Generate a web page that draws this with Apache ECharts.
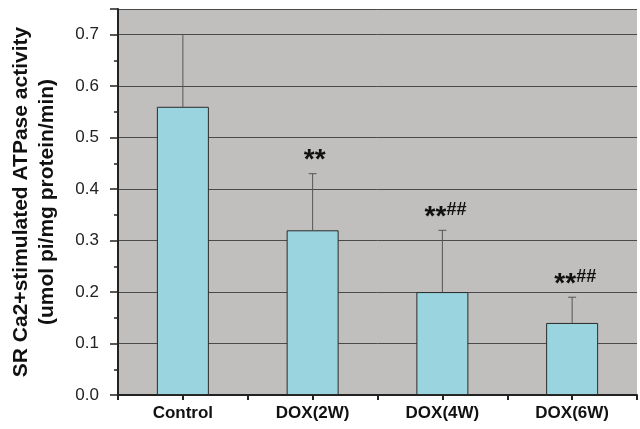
<!DOCTYPE html>
<html>
<head>
<meta charset="utf-8">
<script src="https://cdn.jsdelivr.net/npm/echarts@6/dist/echarts.min.js"></script>
<style>
  html, body { margin: 0; padding: 0; background: #fff; }
  #chart { width: 640px; height: 429px; }
</style>
</head>
<body>
<div id="chart"></div>
<script>
// data
var groups = ['Control', 'DOX(2W)', 'DOX(4W)', 'DOX(6W)']
var activity = [0.56, 0.32, 0.20, 0.14]
var errTop = [0.70, 0.43, 0.32, 0.19]
var signif = ['', '**', '**##', '**##']

var myChart = echarts.init(document.getElementById('chart'))

function errorItem(params, api) {
  var i = params.dataIndex
  var base = api.coord([i, api.value(1)])
  var top = api.coord([i, api.value(2)])
  var kids = [{
    type: 'line',
    shape: { x1: base[0], y1: base[1], x2: top[0], y2: top[1] },
    style: { stroke: '#555', lineWidth: 1 }
  }]
  if (i > 0) {
    kids.push({
      type: 'line',
      shape: { x1: top[0] - 4, y1: top[1], x2: top[0] + 4, y2: top[1] },
      style: { stroke: '#555', lineWidth: 1 }
    })
  }
  var s = signif[i]
  if (s) {
    var stars = s.replace(/#/g, '')
    var hashes = s.replace(/\*/g, '')
    // the asterisks
    kids.push({
      type: 'text',
      x: hashes ? top[0] + 4 : top[0] + 2,
      y: top[1],
      style: {
        text: stars,
        align: hashes ? 'right' : 'center',
        verticalAlign: 'bottom',
        fontFamily: 'Liberation Sans', fontWeight: 'bold', fontSize: 28,
        lineHeight: 26, fill: '#111'
      }
    })
    // the hashes, set a bit higher
    if (hashes) {
      kids.push({
        type: 'text',
        x: top[0] + 4,
        y: top[1] - 20,
        style: {
          text: hashes,
          align: 'left',
          verticalAlign: 'middle',
          fontFamily: 'Liberation Sans', fontWeight: 'bold', fontSize: 18,
          fill: '#111'
        }
      })
    }
  }
  return { type: 'group', children: kids }
}

var option = {
  animation: false,
  grid: {
    left: 118, top: 9, right: 3, bottom: 34,
    show: true, backgroundColor: '#c1bfbe', borderWidth: 0
  },
  xAxis: [{
    type: 'category',
    data: groups,
    axisLine: { lineStyle: { color: '#222', width: 2 } },
    axisTick: { show: true, length: 5, lineStyle: { color: '#222', width: 2 } },
    axisLabel: { color: '#111', fontFamily: 'Liberation Sans', fontWeight: 'bold', fontSize: 17, margin: 10 }
  }, {
    type: 'category',
    data: groups,
    position: 'bottom',
    axisLine: { show: false },
    axisTick: { show: true, alignWithLabel: true, length: 5, lineStyle: { color: '#222', width: 2 } },
    axisLabel: { show: false }
  }],
  yAxis: {
    type: 'value',
    min: 0,
    max: 0.75,
    interval: 0.1,
    name: 'SR Ca2+stimulated ATPase activity\n(umol pi/mg protein/min)',
    nameLocation: 'middle',
    nameGap: 58,
    nameTextStyle: { color: '#111', fontFamily: 'Liberation Sans', fontWeight: 'bold', fontSize: 21, lineHeight: 26 },
    axisLine: { show: true, lineStyle: { color: '#222', width: 2 } },
    axisTick: { show: true, length: 8, lineStyle: { color: '#222', width: 1.5 } },
    minorTick: { show: true, splitNumber: 2, length: 4, lineStyle: { color: '#222', width: 1.5 } },
    splitLine: { show: true, lineStyle: { color: '#4a4a4a', width: 1 } },
    axisLabel: {
      color: '#222', fontFamily: 'Liberation Sans', fontSize: 17, margin: 19,
      formatter: function (v) { return v.toFixed(1) },
      showMaxLabel: false
    }
  },
  series: [{
    type: 'bar',
    data: activity,
    barWidth: 52,
    itemStyle: { color: '#9ad4de', borderColor: '#2a2a2a', borderWidth: 1 }
  }, {
    type: 'custom',
    renderItem: errorItem,
    data: groups.map(function (g, i) { return [i, activity[i], errTop[i]] }),
    encode: { x: 0, y: [1, 2] },
    z: 3
  }]
}
myChart.setOption(option, true)
</script>
</body>
</html>
